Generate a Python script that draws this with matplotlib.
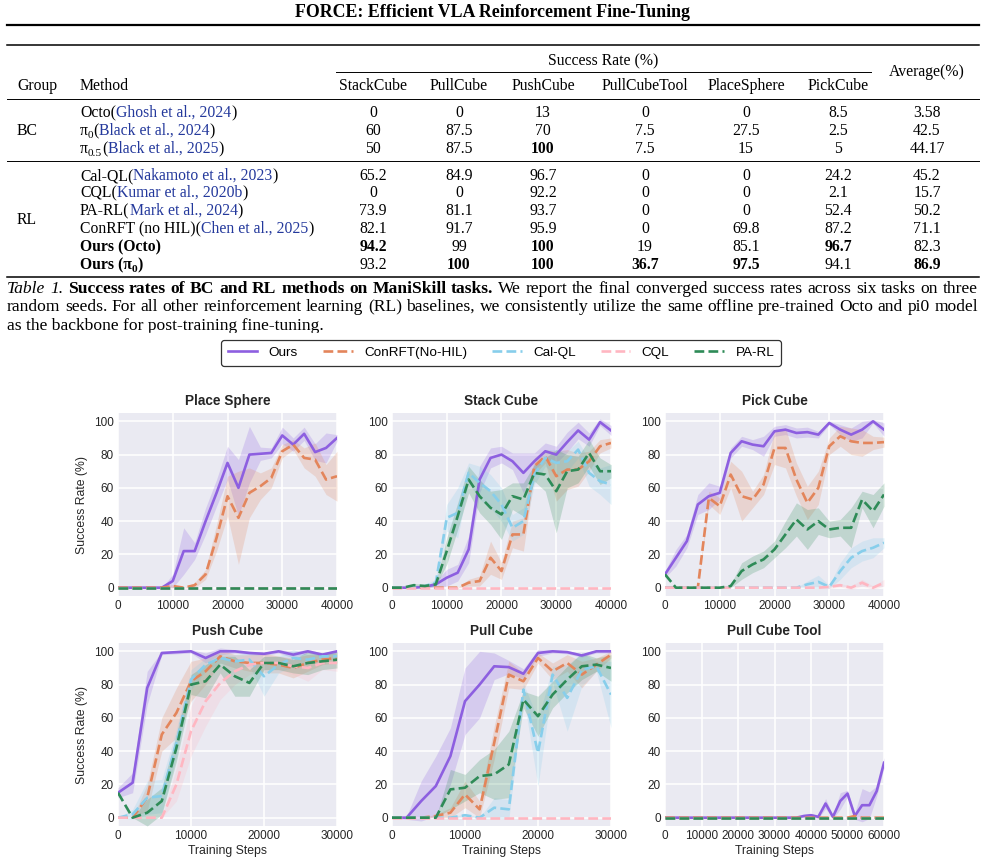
import matplotlib
matplotlib.use("Agg")
import matplotlib.pyplot as plt
import numpy as np
from matplotlib.lines import Line2D
from matplotlib.patches import Rectangle

W, H = 985, 863
SERIF = "Liberation Serif"
TSIZE = 11.3
CAPSIZE = 12.6
CITE = "#24399c"

plt.rcParams["font.family"] = ["Liberation Sans", "DejaVu Sans"]

# ---------------- table data ----------------
tasks = ["StackCube", "PullCube", "PushCube", "PullCubeTool", "PlaceSphere", "PickCube"]
groups = ["BC", "RL"]
row_vals = [
    ["0", "0", "13", "0", "0", "8.5", "3.58"],
    ["60", "87.5", "70", "7.5", "27.5", "2.5", "42.5"],
    ["50", "87.5", "100", "7.5", "15", "5", "44.17"],
    ["65.2", "84.9", "96.7", "0", "0", "24.2", "45.2"],
    ["0", "0", "92.2", "0", "0", "2.1", "15.7"],
    ["73.9", "81.1", "93.7", "0", "0", "52.4", "50.2"],
    ["82.1", "91.7", "95.9", "0", "69.8", "87.2", "71.1"],
    ["94.2", "99", "100", "19", "85.1", "96.7", "82.3"],
    ["93.2", "100", "100", "36.7", "97.5", "94.1", "86.9"],
]
bold_cells = [(2, 2), (7, 0), (7, 2), (7, 5), (8, 1), (8, 2), (8, 3), (8, 4), (8, 6)]

# ---------------- curve data (success rate %, every 2000 steps) ----------------
ps_ours = [0, 0, 0, 0, 0, 4, 22, 22, 40, 57, 75, 60, 80, 80.5, 81, 91.5, 86, 92.5, 81.5, 84, 90]
ps_ours_sd = [0, 0, 0, 0, 0, 4, 14, 5, 8, 8, 10, 17, 17, 4, 3, 5, 4, 4, 5, 9, 2]
ps_conrft = [0, 0, 0, 0, 0, 1, 0, 1.5, 8, 30, 55, 42, 57, 61, 66, 82, 86, 78, 77, 65, 67]
ps_conrft_sd = [0, 0, 0, 0, 0, 1, 0, 1.5, 3, 8, 12, 28, 15, 8, 6, 4, 3, 6, 10, 9, 15]
ps_zero = [0] * 21

sc_ours = [0, 0, 0, 0.5, 2, 6, 9, 23, 65, 78, 80, 76, 69, 76, 82, 80, 87.5, 94.5, 89, 99.5, 94.5]
sc_ours_sd = [0, 0, 0, 0.5, 2, 5, 5, 8, 8, 6, 5, 5, 12, 5, 5, 5, 6, 5, 4, 2, 3]
sc_conrft = [0, 0, 0, 0, 0, 0, 0, 3, 4, 18, 10, 32, 32, 73, 79, 67, 71, 71, 76, 85, 87]
sc_conrft_sd = [0, 0, 0, 0, 0, 0, 0, 2, 3, 10, 5, 8, 10, 5, 4, 15, 12, 10, 6, 4, 3]
sc_calql = [0, 0, 0.5, 1, 3, 42, 45, 69, 63, 58, 50, 36, 40, 68, 78, 75, 76, 83, 69, 64, 62]
sc_calql_sd = [0, 0, 0.5, 1, 2, 8, 15, 6, 10, 10, 10, 8, 8, 6, 5, 8, 6, 5, 8, 8, 12]
sc_cql = [0] * 21
sc_parl = [0, 0, 1.5, 1, 2, 22, 43, 65, 55, 48, 44, 55, 53, 69, 68, 58, 70, 71, 81, 70, 70]
sc_parl_sd = [0, 0, 1, 1, 1, 8, 8, 8, 10, 10, 15, 8, 10, 5, 10, 25, 10, 8, 8, 8, 4]

pc_ours = [8, 18, 28, 50, 55, 57, 81, 88, 86, 85, 94, 95, 93, 93.5, 92, 99, 95, 92, 95, 100, 95]
pc_ours_sd = [2, 5, 4, 6, 8, 4, 3, 3, 3, 6, 3, 3, 3, 3, 2, 1, 3, 4, 5, 1, 4]
pc_conrft = [0, 0, 0, 0, 54, 49, 68, 55, 53, 62, 84, 84, 65, 51, 60, 85, 91, 88, 87, 87, 87.5]
pc_conrft_sd = [0, 0, 0, 0, 4, 5, 8, 15, 5, 6, 10, 12, 10, 10, 10, 5, 6, 8, 8, 4, 3]
pc_calql = [0, 0, 0, 0, 0, 0, 0, 0, 0, 0, 0, 0, 0, 2, 3.5, 0.5, 10, 18, 22, 24, 27]
pc_calql_sd = [0, 0, 0, 0, 0, 0, 0, 0, 0, 0, 0, 0, 0, 2, 4, 1, 5, 6, 6, 6, 3]
pc_cql = [0, 0, 0, 0, 0, 0, 0, 0, 0, 0, 0, 0, 0, 0, 0, 0.5, 1.5, 0, 3, 0, 3]
pc_cql_sd = [0, 0, 0, 0, 0, 0, 0, 0, 0, 0, 0, 0, 0, 0, 0, 1, 1, 1, 2, 1, 2]
pc_parl = [8, 0, 0, 0, 0, 0, 1, 10, 14, 17, 23, 32, 41, 35, 40, 35, 36, 36, 53, 46, 56]
pc_parl_sd = [0, 0, 0, 0, 0, 0, 1, 5, 5, 5, 5, 8, 10, 12, 8, 5, 5, 12, 5, 10, 7]

pu_ours = [15, 21, 78, 99, 99.5, 100, 96, 100, 100, 99, 98.5, 100, 98, 100, 98, 100]
pu_ours_sd = [3, 6, 10, 1, 1, 1, 3, 2, 1, 1, 1, 1, 2, 1, 1, 1]
pu_conrft = [0, 0, 12, 50, 63, 82, 88, 97, 94, 93, 93, 92, 90, 93, 95, 96]
pu_conrft_sd = [0, 0, 8, 10, 15, 12, 8, 4, 4, 5, 6, 5, 6, 5, 3, 3]
pu_calql = [0, 2, 12, 13, 45, 83, 92, 96, 94, 95, 85, 92, 96, 95, 97, 97]
pu_calql_sd = [0, 3, 10, 10, 8, 6, 4, 3, 4, 4, 12, 5, 5, 3, 2, 2]
pu_cql = [0, 0, 0, 0, 20, 52, 70, 81, 88, 92, 93, 93, 91, 90, 93, 93]
pu_cql_sd = [0, 0, 0, 0, 10, 15, 15, 10, 8, 6, 4, 4, 5, 8, 4, 5]
pu_parl = [15, 0, 3, 10, 42, 80, 82, 92, 85, 81, 93, 93, 91, 93, 94, 95]
pu_parl_sd = [0, 0, 8, 8, 8, 6, 10, 5, 12, 8, 4, 4, 4, 7, 5, 5]

pl_ours = [0, 0, 10, 19, 37, 70, 80, 91, 90.5, 86.5, 99, 100, 99.5, 97.5, 100, 100]
pl_ours_sd = [0, 1, 12, 18, 17, 20, 20, 8, 4, 3, 2, 1, 1, 1, 1, 1]
pl_conrft = [0, 0, 0, 1, 3, 14, 5, 45, 86, 82, 96, 88, 93, 86, 92, 98]
pl_conrft_sd = [0, 0, 0, 1, 3, 8, 5, 10, 8, 5, 3, 5, 5, 8, 4, 2]
pl_calql = [0, 0, 0, 0, 0, 1.5, 0, 6, 5, 77, 39, 86, 72, 89, 91, 74]
pl_calql_sd = [0, 0, 0, 0, 0, 1, 0, 6, 6, 4, 20, 5, 20, 10, 3, 20]
pl_cql = [0] * 16
pl_parl = [0, 0, 0, 0, 17, 18, 25, 26, 32, 71, 61, 74, 83, 91, 92, 90]
pl_parl_sd = [0, 0, 0, 0, 12, 8, 10, 15, 20, 5, 12, 8, 8, 8, 4, 8]

pt_ours = [0] * 19 + [1, 1.5, 0.5, 8.5, 0.5, 10, 14.5, 1, 7.5, 7.5, 16, 33]
pt_ours_sd = [0] * 19 + [1, 1, 1, 3, 1, 5, 2, 2, 10, 8, 3, 3]
pt_conrft = [0] * 26 + [1, 0, 0, 0, 0]
pt_zero = [0] * 31

methods = ["Ours", "ConRFT(No-HIL)", "Cal-QL", "CQL", "PA-RL"]
colors = ["#8D5FE0", "#E3855B", "#87CEEB", "#FFB6C1", "#2E8B57"]
styles = ["-", "--", "--", "--", "--"]


def fx(x):
    return x / W


def fy(y):
    return 1 - y / H


fig = plt.figure(figsize=(W / 100, H / 100), dpi=100)
renderer = fig.canvas.get_renderer()


def make_text(txt, size=TSIZE, weight="normal", style="normal", color="black"):
    return fig.text(0, 0, txt, fontfamily=SERIF, fontsize=size, fontweight=weight,
                    fontstyle=style, color=color, va="baseline", ha="left")


def place_runs(x, yc, runs, ha="left"):
    # runs: (text, weight, color, sub)
    items = []
    for txt, weight, color, sub in runs:
        size = 8.2 if sub else TSIZE
        t = make_text(txt, size=size, weight=weight, color=color)
        items.append((t, 3.5 if sub else 0))
    widths = [t.get_window_extent(renderer).width for t, _ in items]
    x0 = x - sum(widths) / 2 if ha == "center" else x
    for (t, dy), w in zip(items, widths):
        t.set_position((fx(x0), fy(yc + 5 + dy)))
        x0 += w


def hline(y, x0, x1, lw):
    fig.add_artist(Line2D([fx(x0), fx(x1)], [fy(y), fy(y)], color="black", lw=lw))


def justify(yc, words, x0=7, x1=978):
    ts = [make_text(w, size=CAPSIZE, style=s[0], weight=s[1]) for w, s in words]
    widths = [t.get_window_extent(renderer).width for t in ts]
    gap = (x1 - x0 - sum(widths)) / (len(ts) - 1)
    x = x0
    for t, w in zip(ts, widths):
        t.set_position((fx(x), fy(yc + 5)))
        x += w + gap


# ---------------- table ----------------
fig.text(fx(492), fy(17), "FORCE: Efficient VLA Reinforcement Fine-Tuning", fontfamily=SERIF,
         fontsize=12.9, fontweight="bold", ha="center", va="baseline")
hline(25, 7, 979, 1.6)
hline(45, 7, 979, 1.1)
hline(72, 336, 871, 0.7)
hline(99, 7, 979, 0.7)
hline(161, 7, 979, 0.7)
hline(277, 7, 979, 1.1)

col_x = [373, 459, 543, 645, 746, 838, 927]
row_y = [112, 130, 148, 175, 192, 210, 228, 246, 264]

place_runs(603, 60, [("Success Rate (%)", "normal", "black", False)], ha="center")
place_runs(927, 71, [("Average(%)", "normal", "black", False)], ha="center")
place_runs(17, 85, [("Group", "normal", "black", False)])
place_runs(80, 85, [("Method", "normal", "black", False)])
for name, cx in zip(tasks, col_x):
    place_runs(cx, 85, [(name, "normal", "black", False)], ha="center")
place_runs(17, 130, [(groups[0], "normal", "black", False)])
place_runs(17, 219, [(groups[1], "normal", "black", False)])

k, b, c = "black", "bold", CITE
method_runs = [
    [("Octo(", "normal", k, False), ("Ghosh et al., 2024", "normal", c, False), (")", "normal", k, False)],
    [("π", "normal", k, False), ("0", "normal", k, True), ("(", "normal", k, False),
     ("Black et al., 2024", "normal", c, False), (")", "normal", k, False)],
    [("π", "normal", k, False), ("0.5", "normal", k, True), ("(", "normal", k, False),
     ("Black et al., 2025", "normal", c, False), (")", "normal", k, False)],
    [("Cal-QL(", "normal", k, False), ("Nakamoto et al., 2023", "normal", c, False), (")", "normal", k, False)],
    [("CQL(", "normal", k, False), ("Kumar et al., 2020b", "normal", c, False), (")", "normal", k, False)],
    [("PA-RL(", "normal", k, False), ("Mark et al., 2024", "normal", c, False), (")", "normal", k, False)],
    [("ConRFT (no HIL)(", "normal", k, False), ("Chen et al., 2025", "normal", c, False), (")", "normal", k, False)],
    [("Ours (Octo)", b, k, False)],
    [("Ours (π", b, k, False), ("0", b, k, True), (")", b, k, False)],
]
for i, runs in enumerate(method_runs):
    place_runs(80, row_y[i], runs)
    for j, val in enumerate(row_vals[i]):
        w = "bold" if (i, j) in bold_cells else "normal"
        place_runs(col_x[j], row_y[i], [(val, w, "black", False)], ha="center")

# caption
it, bd, nm = ("italic", "normal"), ("normal", "bold"), ("normal", "normal")
line1 = [("Table", it), ("1.", it)]
line1 += [(w, bd) for w in "Success rates of BC and RL methods on ManiSkill tasks.".split()]
line1 += [(w, nm) for w in "We report the final converged success rates across six tasks on three".split()]
justify(288, line1)
line2 = ("random seeds. For all other reinforcement learning (RL) baselines, we consistently "
         "utilize the same offline pre-trained Octo and pi0 model")
justify(306, [(w, nm) for w in line2.split()])
fig.text(fx(7), fy(330), "as the backbone for post-training fine-tuning.", fontfamily=SERIF,
         fontsize=CAPSIZE, va="baseline")
fig.add_artist(Rectangle((0, fy(338)), 1, fy(333) - fy(338), transform=fig.transFigure,
                         color="white", zorder=10))

# ---------------- subplots ----------------
panels = [
    ("Place Sphere", 40000, [ps_ours, ps_conrft, ps_zero, ps_zero, ps_zero],
     [ps_ours_sd, ps_conrft_sd, ps_zero, ps_zero, ps_zero]),
    ("Stack Cube", 40000, [sc_ours, sc_conrft, sc_calql, sc_cql, sc_parl],
     [sc_ours_sd, sc_conrft_sd, sc_calql_sd, sc_cql, sc_parl_sd]),
    ("Pick Cube", 40000, [pc_ours, pc_conrft, pc_calql, pc_cql, pc_parl],
     [pc_ours_sd, pc_conrft_sd, pc_calql_sd, pc_cql_sd, pc_parl_sd]),
    ("Push Cube", 30000, [pu_ours, pu_conrft, pu_calql, pu_cql, pu_parl],
     [pu_ours_sd, pu_conrft_sd, pu_calql_sd, pu_cql_sd, pu_parl_sd]),
    ("Pull Cube", 30000, [pl_ours, pl_conrft, pl_calql, pl_cql, pl_parl],
     [pl_ours_sd, pl_conrft_sd, pl_calql_sd, pl_cql, pl_parl_sd]),
    ("Pull Cube Tool", 60000, [pt_ours, pt_conrft, pt_zero, pt_zero, pt_zero],
     [pt_ours_sd, pt_zero, pt_zero, pt_zero, pt_zero]),
]
lefts = [118, 392, 665]
rows = [(413, 596), (643, 826)]

for idx, (title, xmax, means, sds) in enumerate(panels):
    r, cidx = divmod(idx, 3)
    top, bot = rows[r]
    ax = fig.add_axes([fx(lefts[cidx]), fy(bot), 219 / W, (bot - top) / H])
    ax.set_facecolor("#EAEAF2")
    ax.grid(True, color="white", lw=1.1)
    ax.set_axisbelow(True)
    for s in ax.spines.values():
        s.set_visible(False)
    for m, sd, col, ls in zip(means, sds, colors, styles):
        m = np.array(m, dtype=float)
        sd = np.array(sd, dtype=float)
        steps = np.arange(len(m)) * 2000
        ax.fill_between(steps, m - sd, m + sd, color=col, alpha=0.22, lw=0)
        ax.plot(steps, m, color=col, ls=ls, lw=1.9)
    ax.set_xlim(0, xmax)
    ax.set_ylim(-5, 105)
    ax.set_xticks(np.arange(0, xmax + 1, 10000))
    ax.set_yticks([0, 20, 40, 60, 80, 100])
    ax.tick_params(length=0, labelsize=8.5, colors="#262626", pad=3)
    ax.set_title(title, fontsize=9.8, fontweight="bold", color="#262626", pad=6)
    if cidx == 0:
        ax.set_ylabel("Success Rate (%)", fontsize=8.8, color="#262626")
    if r == 1:
        ax.set_xlabel("Training Steps", fontsize=8.8, color="#262626", labelpad=2)

handles = [Line2D([], [], color=c, ls=s, lw=1.9) for c, s in zip(colors, styles)]
leg = fig.legend(handles, methods, loc="center", bbox_to_anchor=(fx(501), fy(353)), ncol=5,
                 fontsize=9.7, frameon=True, fancybox=True, handlelength=2.2,
                 handletextpad=0.85, columnspacing=1.85, borderpad=0.5)
leg.get_frame().set_edgecolor("black")
leg.get_frame().set_linewidth(0.9)

fig.savefig("out.png", dpi=100)
